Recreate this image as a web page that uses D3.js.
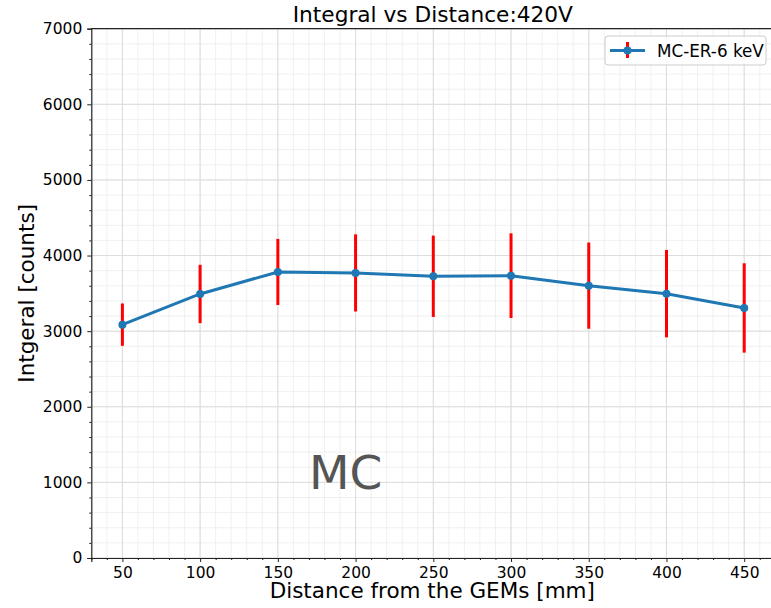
<!DOCTYPE html>
<html>
<head>
<meta charset="utf-8">
<script src="https://cdn.jsdelivr.net/npm/d3@7"></script>
<style>
  body { margin: 0; background: #fff; }
  text { font-family: "DejaVu Sans", sans-serif; }
</style>
</head>
<body>
<script>
// integral vs distance, MC points with error bars

var distances = [50, 100, 150, 200, 250, 300, 350, 400, 450];
var integrals = [3086, 3492, 3783, 3770, 3726, 3734, 3602, 3496, 3307];
var errors = [280, 386, 437, 510, 538, 560, 570, 578, 591];
var xTicks = [50, 100, 150, 200, 250, 300, 350, 400, 450];
var yTicks = [0, 1000, 2000, 3000, 4000, 5000, 6000, 7000];

var W = 771, H = 608;
var pLeft = 91.3, pRight = 775.3, pTop = 28.7, pBottom = 558;

var svg = d3.select("body").append("svg").attr("width", W).attr("height", H);

var x = d3.scaleLinear().domain([30, 470]).range([pLeft, pRight]);
var y = d3.scaleLinear().domain([0, 7000]).range([pBottom, pTop]);

var plot = svg.append("g");

// minor grid
var xMinor = d3.range(30, 471, 10);
var yMinor = d3.range(0, 7001, 200);
plot.selectAll("line.xmin").data(xMinor).enter().append("line")
      .attr("x1", function (d) { return x(d); }).attr("x2", function (d) { return x(d); })
      .attr("y1", pTop).attr("y2", pBottom)
      .attr("stroke", "#ececec").attr("stroke-width", 0.8);
plot.selectAll("line.ymin").data(yMinor).enter().append("line")
      .attr("x1", pLeft).attr("x2", pRight)
      .attr("y1", function (d) { return y(d); }).attr("y2", function (d) { return y(d); })
      .attr("stroke", "#ececec").attr("stroke-width", 0.8);

// major grid
plot.selectAll("line.xmaj").data(xTicks).enter().append("line")
      .attr("x1", function (d) { return x(d); }).attr("x2", function (d) { return x(d); })
      .attr("y1", pTop).attr("y2", pBottom)
      .attr("stroke", "#dcdcdc").attr("stroke-width", 1);
plot.selectAll("line.ymaj").data(yTicks).enter().append("line")
      .attr("x1", pLeft).attr("x2", pRight)
      .attr("y1", function (d) { return y(d); }).attr("y2", function (d) { return y(d); })
      .attr("stroke", "#dcdcdc").attr("stroke-width", 1);

// axes
svg.append("g").attr("transform", "translate(0," + pBottom + ")")
      .call(d3.axisBottom(x).tickValues(xTicks).tickSize(4).tickPadding(5));
svg.append("g").attr("transform", "translate(0," + pBottom + ")")
      .call(d3.axisBottom(x).tickValues(xMinor.filter(function (d) { return d % 50 !== 0; })).tickSize(2).tickFormat(""))
      .select(".domain").remove();
svg.append("g").attr("transform", "translate(" + pLeft + ",0)")
      .call(d3.axisLeft(y).tickValues(yTicks).tickSize(4).tickPadding(5).tickFormat(d3.format("d")));
svg.append("g").attr("transform", "translate(" + pLeft + ",0)")
      .call(d3.axisLeft(y).tickValues(yMinor.filter(function (d) { return d % 1000 !== 0; })).tickSize(2).tickFormat(""))
      .select(".domain").remove();

svg.selectAll(".tick text").attr("font-size", "15.5px").attr("font-family", "DejaVu Sans").attr("fill", "#000");
svg.selectAll(".domain").attr("stroke", "#222").attr("stroke-width", 1.2);
svg.selectAll(".tick line").attr("stroke", "#222");

// top spine
svg.append("line").attr("x1", pLeft).attr("x2", pRight).attr("y1", pTop).attr("y2", pTop)
      .attr("stroke", "#222").attr("stroke-width", 1.2);

var pts = distances.map(function (d, i) { return { x: d, y: integrals[i], e: errors[i] }; });

// error bars
plot.selectAll("line.err").data(pts).enter().append("line")
      .attr("x1", function (d) { return x(d.x); }).attr("x2", function (d) { return x(d.x); })
      .attr("y1", function (d) { return y(d.y - d.e); }).attr("y2", function (d) { return y(d.y + d.e); })
      .attr("stroke", "red").attr("stroke-width", 3);

var line = d3.line()
      .x(function (d) { return x(d.x); })
      .y(function (d) { return y(d.y); });

plot.append("path")
      .attr("fill", "none")
      .attr("stroke", "#1f77b4")
      .attr("stroke-width", 3)
      .attr("d", line(pts));

plot.selectAll("circle.pt").data(pts).enter().append("circle")
      .attr("fill", "#1f77b4")
      .attr("cx", function (d) { return x(d.x); })
      .attr("cy", function (d) { return y(d.y); })
      .attr("r", 4);

// MC label
svg.append("text").attr("x", x(170)).attr("y", y(1000) + 7)
      .attr("font-family", "Liberation Sans, Arial, sans-serif").attr("font-size", "47px")
      .attr("fill", "#555").text("MC");

// title and axis labels
svg.append("text").attr("x", (pLeft + pRight) / 2 - 0.5).attr("y", 22)
      .attr("text-anchor", "middle").attr("font-size", "21.7px").text("Integral vs Distance:420V");
svg.append("text").attr("x", (pLeft + pRight) / 2 - 1).attr("y", 598)
      .attr("text-anchor", "middle").attr("font-size", "21.5px").text("Distance from the GEMs [mm]");
svg.append("text").attr("transform", "translate(34," + ((pTop + pBottom) / 2) + ") rotate(-90)")
      .attr("text-anchor", "middle").attr("font-size", "21.5px").text("Intgeral [counts]");

// legend
var lg = svg.append("g");
lg.append("rect").attr("x", 605).attr("y", 36).attr("width", 161).attr("height", 29).attr("rx", 3)
      .attr("fill", "#fff").attr("fill-opacity", 0.8).attr("stroke", "#ccc");
lg.append("line").attr("x1", 610).attr("x2", 645).attr("y1", 50.5).attr("y2", 50.5)
      .attr("stroke", "#1f77b4").attr("stroke-width", 3);
lg.append("line").attr("x1", 627.5).attr("x2", 627.5).attr("y1", 42).attr("y2", 58)
      .attr("stroke", "red").attr("stroke-width", 3);
lg.append("circle").attr("cx", 627.5).attr("cy", 50.5).attr("r", 4).attr("fill", "#1f77b4");
lg.append("text").attr("x", 657).attr("y", 56.5).attr("font-size", "16.8px").text("MC-ER-6 keV");
</script>
</body>
</html>
